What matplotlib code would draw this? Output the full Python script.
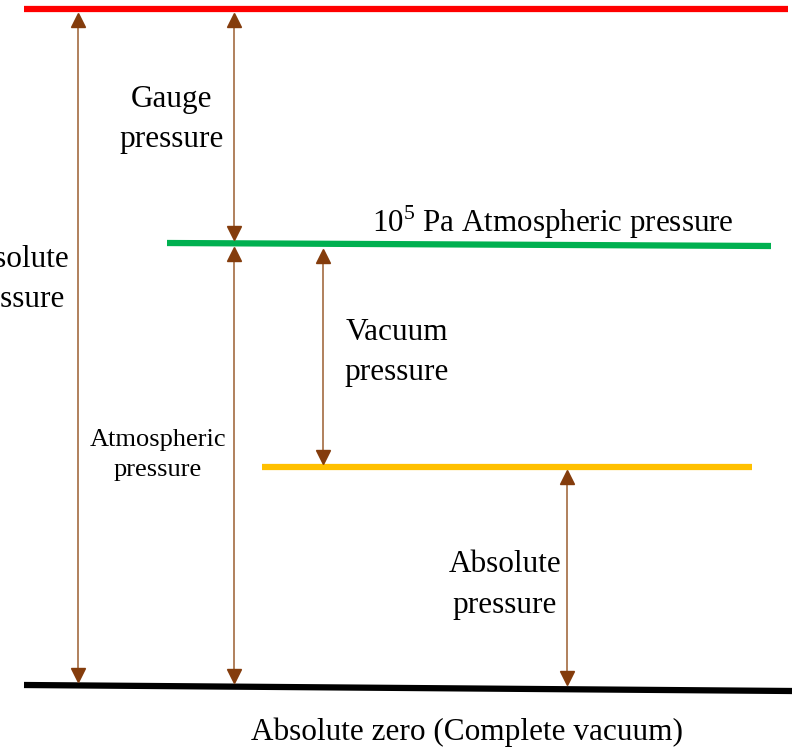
import matplotlib
matplotlib.use("Agg")
import matplotlib.pyplot as plt

plt.rcParams['font.family'] = ['Liberation Serif', 'DejaVu Serif']
plt.rcParams['mathtext.fontset'] = 'custom'
plt.rcParams['mathtext.rm'] = 'Liberation Serif'

# pressure levels (pixel-ish diagram coordinates, y grows downward)
level_colors = ['#FF0000', '#00B050', '#FFC000', '#000000']
level_x0 = [24, 167, 262, 24]
level_x1 = [788, 771, 752, 792]
level_y0 = [9, 243, 467, 685]
level_y1 = [9, 246, 467, 691]

# double headed arrows between levels
arrow_x = [78, 234, 234, 323, 567]
arrow_top = [13, 13, 247, 249, 470]
arrow_bot = [682, 240, 683, 464, 685]

labels = ["Absolute\npressure", "Gauge\npressure", "Atmospheric\npressure",
          "Vacuum\npressure", "Absolute\npressure"]
label_x = [13, 172, 158, 397, 505]
label_y = [279, 119, 455, 352, 585]
label_size = [22.5, 22.5, 19, 22.5, 22.5]

fig = plt.figure(figsize=(7.92, 7.48), dpi=100)
ax = fig.add_axes([0, 0, 1, 1])
ax.set_xlim(0, 792)
ax.set_ylim(748, 0)
ax.axis('off')

for c, xa, xb, ya, yb in zip(level_colors, level_x0, level_x1, level_y0, level_y1):
    ax.plot([xa, xb], [ya, yb], color=c, lw=4.5, solid_capstyle='butt')

head = '#843C0C'
for x, t, b in zip(arrow_x, arrow_top, arrow_bot):
    ax.plot([x, x], [t + 7, b - 7], color='#B0805C', lw=1.4)
    ax.plot(x, t + 7, marker='^', ms=10.5, color=head, mec=head)
    ax.plot(x, b - 7, marker='v', ms=10.5, color=head, mec=head)

for s, x, y, fs in zip(labels, label_x, label_y, label_size):
    ax.text(x, y, s, ha='center', va='center', fontsize=fs, linespacing=1.5)

ax.text(553, 222, r"10$^{5}$ Pa Atmospheric pressure", ha='center', va='center', fontsize=22.3)
ax.text(467, 732, "Absolute zero (Complete vacuum)", ha='center', va='center', fontsize=22.5)

fig.savefig("out.png", dpi=100)
